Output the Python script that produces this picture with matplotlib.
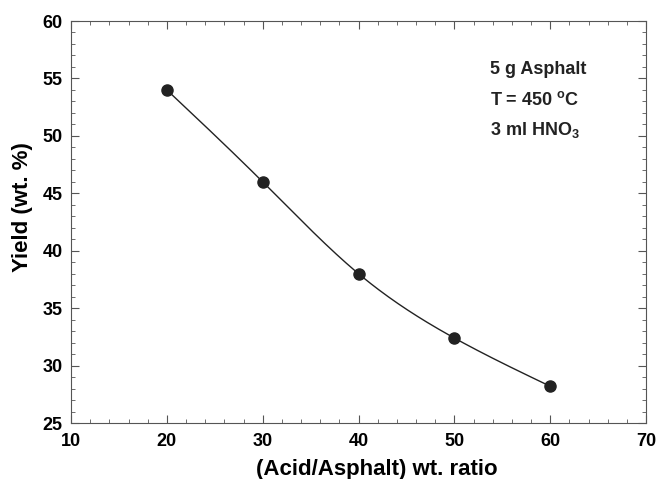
import numpy as np
import matplotlib
matplotlib.use('Agg')
import matplotlib.pyplot as plt
from matplotlib.ticker import MultipleLocator

plt.rcParams['font.family'] = 'Liberation Sans'
plt.rcParams['font.weight'] = 'bold'
plt.rcParams['mathtext.fontset'] = 'custom'
plt.rcParams['mathtext.rm'] = 'Liberation Sans:bold'
plt.rcParams['mathtext.default'] = 'rm'

# data
ratio = np.array([20, 30, 40, 50, 60])
yield_pct = np.array([54.0, 46.0, 38.0, 32.4, 28.2])
notes = ['5 g Asphalt', r'T = 450 $^{o}$C', r'3 ml HNO$_{3}$']


def spline(x, y, xs):
    # natural cubic spline for the smooth line through the points
    n = len(x)
    h = np.diff(x)
    A = np.zeros((n, n))
    r = np.zeros(n)
    A[0, 0] = A[-1, -1] = 1
    for i in range(1, n - 1):
        A[i, i - 1] = h[i - 1]
        A[i, i] = 2 * (h[i - 1] + h[i])
        A[i, i + 1] = h[i]
        r[i] = 6 * ((y[i + 1] - y[i]) / h[i] - (y[i] - y[i - 1]) / h[i - 1])
    M = np.linalg.solve(A, r)
    k = np.clip(np.searchsorted(x, xs) - 1, 0, n - 2)
    t0 = x[k + 1] - xs
    t1 = xs - x[k]
    hk = h[k]
    return (M[k] * t0**3 / (6 * hk) + M[k + 1] * t1**3 / (6 * hk)
            + (y[k] / hk - M[k] * hk / 6) * t0
            + (y[k + 1] / hk - M[k + 1] * hk / 6) * t1)


fig = plt.figure(figsize=(6.58, 4.79), dpi=100)
ax = fig.add_axes([71 / 658, 1 - 423 / 479, 575 / 658, 402 / 479])

xs = np.linspace(ratio.min(), ratio.max(), 200)
ax.plot(xs, spline(ratio.astype(float), yield_pct, xs), color='#222222', lw=1)
ax.plot(ratio, yield_pct, 'o', color='#222222', ms=8)

ax.set_xlim(10, 70)
ax.set_ylim(25, 60)
ax.xaxis.set_major_locator(MultipleLocator(10))
ax.xaxis.set_minor_locator(MultipleLocator(2))
ax.yaxis.set_major_locator(MultipleLocator(5))
ax.yaxis.set_minor_locator(MultipleLocator(1))
ax.tick_params(which='both', direction='in', top=True, right=True, color='#555555')
ax.tick_params(which='major', length=6, labelsize=13)
ax.tick_params(axis='x', which='major', pad=7)
ax.tick_params(axis='y', which='major', pad=6)
ax.tick_params(which='minor', length=3)
for s in ax.spines.values():
    s.set_color('#555555')

ax.set_xlabel('(Acid/Asphalt) wt. ratio', fontsize=16, fontweight='bold', va='center')
ax.set_ylabel('Yield (wt. %)', fontsize=16, fontweight='bold', va='center')
ax.xaxis.set_label_coords((377 - 71) / 575, -(470 - 423) / 402)
ax.yaxis.set_label_coords(-(71 - 23) / 575, (423 - 207) / 402)

for i, t in enumerate(notes):
    ax.text(53.7, 55.8 - i * 2.65, t, fontsize=13, fontweight='bold',
            va='center', ha='left', color='#222222')

fig.savefig('out.png', dpi=100)
